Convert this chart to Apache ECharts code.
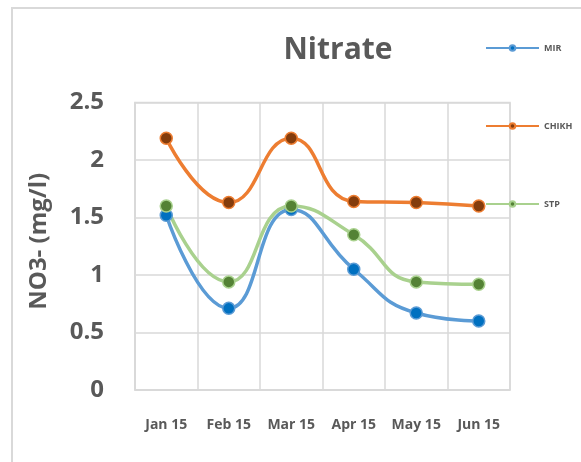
<!DOCTYPE html>
<html>
<head>
<meta charset="utf-8">
<script src="https://cdn.jsdelivr.net/npm/echarts@6/dist/echarts.min.js"></script>
<style>
html,body{margin:0;padding:0;background:#fff;}
#chart{width:581px;height:462px;}
</style>
</head>
<body>
<div id="chart"></div>
<script>
var categories = ['Jan 15', 'Feb 15', 'Mar 15', 'Apr 15', 'May 15', 'Jun 15'];
var mir = [1.52, 0.71, 1.57, 1.05, 0.67, 0.60];
var chikh = [2.19, 1.63, 2.19, 1.64, 1.63, 1.60];
var stp = [1.60, 0.94, 1.60, 1.35, 0.94, 0.92];
var yTicks = [0, 0.5, 1, 1.5, 2, 2.5];

var FONT = 'Open Sans';
var TXT = '#595959';
var GRID = '#d9d9d9';

function mkSeries(name, data, lineColor, markColor) {
  return {
    name: name,
    type: 'line',
    data: data,
    smooth: 0.5,
    symbol: 'circle',
    symbolSize: 12,
    lineStyle: { color: lineColor, width: 3.5 },
    itemStyle: { color: markColor, borderColor: lineColor, borderWidth: 1.5 },
    emphasis: { disabled: true },
    z: 2
  };
}

function mkLegend(name, top) {
  return {
    data: [name],
    left: 485,
    top: top,
    orient: 'vertical',
    itemWidth: 53,
    itemHeight: 7,
    padding: 0,
    selectedMode: false,
    textStyle: { fontFamily: FONT, fontWeight: 'bold', fontSize: 9, color: TXT },
    itemGap: 5
  };
}

var chart = echarts.init(document.getElementById('chart'), null, { renderer: 'canvas' });
chart.setOption({
  animation: false,
  backgroundColor: '#ffffff',
  graphic: [{
    type: 'rect',
    shape: { x: 12, y: 8, width: 600, height: 500 },
    style: { fill: 'none', stroke: GRID, lineWidth: 2 },
    silent: true,
    z: -10
  }],
  title: {
    text: 'Nitrate',
    left: 333,
    top: 30,
    textAlign: 'center',
    textStyle: { fontFamily: FONT, fontWeight: 'bold', fontSize: 30, color: TXT }
  },
  legend: [mkLegend('MIR', 43.5), mkLegend('CHIKH', 121.5), mkLegend('STP', 199.5)],
  grid: {
    left: 135, right: 71, top: 102.5, bottom: 72,
    show: true, borderColor: GRID, borderWidth: 1.5, containLabel: false
  },
  xAxis: {
    type: 'category',
    data: categories,
    boundaryGap: true,
    axisLine: { show: true, lineStyle: { color: GRID, width: 1.5 } },
    axisTick: { show: false, interval: 0 },
    splitLine: { show: true, interval: 0, lineStyle: { color: GRID, width: 1.5 } },
    axisLabel: { interval: 0, fontFamily: FONT, fontWeight: 'bold', fontSize: 14, color: TXT, margin: 28 }
  },
  yAxis: {
    type: 'value',
    min: yTicks[0],
    max: yTicks[yTicks.length - 1],
    interval: 0.5,
    name: 'NO3- (mg/l)',
    nameLocation: 'middle',
    nameGap: 84,
    nameRotate: 90,
    nameTextStyle: { fontFamily: FONT, fontWeight: 'bold', fontSize: 24, color: TXT, padding: [0, 0, 0, 10] },
    axisLine: { show: true, lineStyle: { color: GRID, width: 1.5 } },
    axisTick: { show: false },
    splitLine: { show: true, lineStyle: { color: GRID, width: 1.5 } },
    axisLabel: { fontFamily: FONT, fontWeight: 'bold', fontSize: 24, color: TXT, margin: 31 }
  },
  series: [
    mkSeries('MIR', mir, '#5B9BD5', '#0070C0'),
    mkSeries('CHIKH', chikh, '#ED7D31', '#843C0C'),
    mkSeries('STP', stp, '#A9D18E', '#548235')
  ]
});
</script>
</body>
</html>
